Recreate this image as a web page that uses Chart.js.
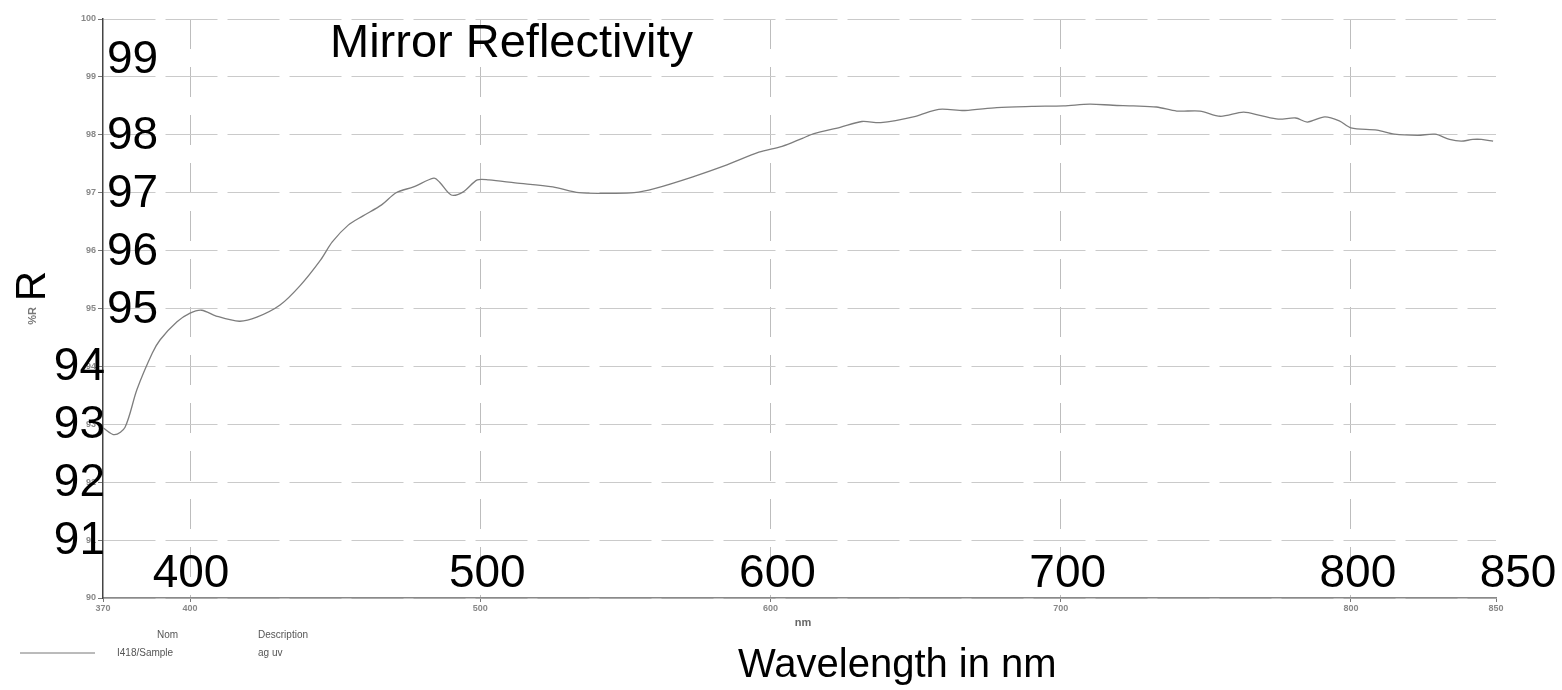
<!DOCTYPE html>
<html>
<head>
<meta charset="utf-8">
<script src="https://cdn.jsdelivr.net/npm/chart.js@4.4.1/dist/chart.umd.min.js"></script>
<style>
  html, body { margin: 0; padding: 0; background: #fff; }
  #wrap { width: 1562px; height: 690px; position: relative; }
</style>
</head>
<body>
<div id="wrap"><canvas id="grafico"></canvas></div>
<script>
const comprimentos = [370, 374, 377.6, 381.7, 387, 389.7, 395.5, 400, 404, 409, 417, 423, 431, 438, 445, 449,
  454.5, 459.6, 466, 471, 477, 484, 486, 490, 494, 499, 503, 512, 525, 534, 545, 553, 560, 573, 585, 596,
  604, 611, 615, 624, 631.5, 638, 650, 658, 667, 678, 690, 701, 710, 718, 725, 733, 740, 748, 755, 763,
  769, 775, 781, 785, 791, 796, 800, 809, 815, 823, 829, 834, 838, 842, 845, 849];
const refletividade = [92.94, 92.82, 92.95, 93.6, 94.23, 94.46, 94.77, 94.92, 94.97, 94.87, 94.78, 94.85, 95.06, 95.4, 95.84, 96.15,
  96.44, 96.6, 96.79, 97.0, 97.1, 97.25, 97.18, 96.96, 97.01, 97.22, 97.22, 97.17, 97.1, 97.0, 96.99, 97.0, 97.07, 97.27, 97.48, 97.7,
  97.8, 97.94, 98.02, 98.13, 98.23, 98.21, 98.32, 98.44, 98.42, 98.47, 98.49, 98.5, 98.53, 98.51, 98.5, 98.48, 98.41, 98.41, 98.32, 98.39,
  98.33, 98.27, 98.29, 98.22, 98.31, 98.24, 98.12, 98.08, 98.01, 97.99, 98.01, 97.92, 97.89, 97.92, 97.92, 97.89];

// ticks pequenos do grafico original
const ticksX = [370, 400, 500, 600, 700, 800, 850];
// rotulos grandes sobrepostos
const rotulosY = [99, 98, 97, 96, 95, 94, 93, 92, 91];
const rotulosX = [400, 500, 600, 700, 800, 850];

const titulo = 'Mirror Reflectivity';
const tituloX = 'Wavelength in nm';

const fonte = '"Liberation Sans", Arial, Helvetica, sans-serif';

const pluginTextos = {
  id: 'pluginTextos',
  afterDraw(chart) {
    const { ctx, chartArea, scales: { x, y } } = chart;
    ctx.save();
    ctx.fillStyle = '#000';
    ctx.textBaseline = 'alphabetic';

    // titulo
    ctx.font = '47px ' + fonte;
    ctx.textAlign = 'left';
    ctx.fillText(titulo, 330, 57);

    // rotulos grandes do eixo y
    ctx.font = '46px ' + fonte;
    rotulosY.forEach(v => {
      const py = y.getPixelForValue(v) + (v === 99 ? -4 : 14);
      if (v >= 95) {
        ctx.textAlign = 'left';
        ctx.fillText(String(v), chartArea.left + 4, py);
      } else {
        ctx.textAlign = 'right';
        ctx.fillText(String(v), chartArea.left + 2, py);
      }
    });

    // rotulos grandes do eixo x
    ctx.textAlign = 'center';
    rotulosX.forEach(v => {
      let dx = 7;
      if (v === 400) dx = 1;
      if (v === 850) dx = 22;
      ctx.fillText(String(v), x.getPixelForValue(v) + dx, chartArea.bottom - 11);
    });

    // titulo eixo x
    ctx.font = '40px ' + fonte;
    ctx.textAlign = 'left';
    ctx.fillText(tituloX, 738, 677);

    // %R girado
    ctx.save();
    ctx.translate(45, 286);
    ctx.rotate(-Math.PI / 2);
    ctx.font = '42px ' + fonte;
    ctx.textAlign = 'center';
    ctx.fillText('R', 0, 0);
    ctx.restore();

    ctx.save();
    ctx.translate(36, 316);
    ctx.rotate(-Math.PI / 2);
    ctx.font = 'bold 11px ' + fonte;
    ctx.fillStyle = '#777';
    ctx.textAlign = 'center';
    ctx.fillText('%R', 0, 0);
    ctx.restore();

    // "nm" pequeno
    ctx.font = 'bold 11px ' + fonte;
    ctx.fillStyle = '#666';
    ctx.textAlign = 'center';
    ctx.fillText('nm', 803, 626);

    // legenda do scan
    ctx.strokeStyle = '#777';
    ctx.lineWidth = 1;
    ctx.beginPath();
    ctx.moveTo(20, 653);
    ctx.lineTo(95, 653);
    ctx.stroke();
    ctx.font = '10px ' + fonte;
    ctx.fillStyle = '#555';
    ctx.textAlign = 'left';
    ctx.fillText('Nom', 157, 638);
    ctx.fillText('Description', 258, 638);
    ctx.fillText('I418/Sample', 117, 656);
    ctx.fillText('ag uv', 258, 656);

    ctx.restore();
  }
};

const pontos = comprimentos.map((c, i) => ({ x: c, y: refletividade[i] }));

new Chart(document.getElementById('grafico'), {
  type: 'line',
  data: {
    datasets: [{
      label: 'I418/Sample',
      data: pontos,
      borderColor: '#7d7d7d',
      borderWidth: 1.3,
      pointRadius: 0,
      tension: 0.3,
      fill: false
    }]
  },
  options: {
    responsive: true,
    maintainAspectRatio: false,
    animation: false,
    layout: { padding: { top: 19, right: 66, left: 0, bottom: 0 } },
    plugins: {
      legend: { display: false },
      title: { display: false },
      tooltip: { enabled: false }
    },
    scales: {
      x: {
        type: 'linear',
        min: 370,
        max: 850,
        afterBuildTicks: s => { s.ticks = ticksX.map(v => ({ value: v })); },
        afterFit: s => { s.height = 92; },
        ticks: {
          font: { family: fonte, size: 9, weight: 'bold' },
          color: '#888',
          padding: 1,
          maxRotation: 0,
          autoSkip: false
        },
        grid: {
          color: c => (c.tick && (c.tick.value === 370 || c.tick.value === 850)) ? 'rgba(0,0,0,0)' : '#bdbdbd',
          tickColor: '#777',
          tickLength: 4,
          lineWidth: 1
        },
        border: { color: '#8a8a8a', width: 1.5, dash: [30, 18] }
      },
      y: {
        min: 90,
        max: 100,
        afterFit: s => { s.width = 103; },
        ticks: {
          stepSize: 1,
          font: { family: fonte, size: 9, weight: 'bold' },
          color: '#888',
          padding: 2
        },
        grid: {
          color: '#cacaca',
          tickColor: '#777',
          tickLength: 5,
          lineWidth: 1
        },
        border: { color: '#444', width: 1.5, dash: [52, 10] }
      }
    }
  },
  plugins: [pluginTextos]
});
</script>
</body>
</html>
